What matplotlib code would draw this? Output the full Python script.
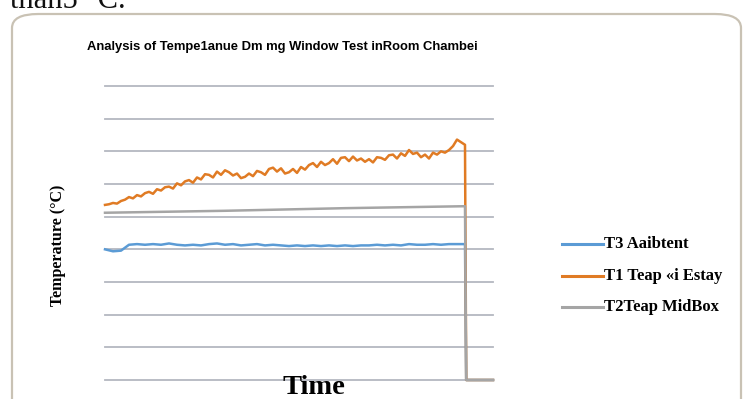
import matplotlib
matplotlib.use("Agg")
import matplotlib.pyplot as plt
from matplotlib.patches import FancyBboxPatch
from matplotlib.lines import Line2D

# ---- data (y in °C, x in sample index) ----
title = "Analysis of Tempe1anue Dm mg Window Test inRoom Chambei"
y_label = "Temperature (°C)"
x_label = "Time"
series_names = ["T3 Aaibtent", "T1 Teap «i Estay", "T2Teap MidBox"]

t1_values = [26.8, 26.9, 27.1, 27.0, 27.4, 27.6, 28.0, 27.8, 28.3, 28.1,
             28.6, 28.8, 28.5, 29.2, 29.0, 29.5, 29.6, 29.3, 30.1, 29.8,
             30.4, 30.6, 30.2, 31.0, 30.7, 31.5, 31.4, 31.0, 31.9, 31.4,
             32.1, 31.8, 31.3, 31.6, 30.9, 31.1, 31.6, 31.2, 32.0, 31.8,
             31.4, 32.3, 32.5, 31.9, 32.4, 31.6, 31.8, 32.3, 31.7, 32.6,
             32.2, 32.9, 33.2, 32.6, 33.4, 32.9, 33.2, 33.8, 33.1, 34.0,
             34.1, 33.5, 34.2, 33.6, 33.9, 33.4, 33.8, 33.3, 34.1, 34.0,
             33.7, 34.4, 34.5, 33.9, 34.7, 34.3, 35.2, 34.6, 34.8, 34.1,
             34.5, 33.9, 34.8, 34.5, 35.0, 34.8, 35.2, 35.8, 36.8, 36.4,
             36.0]
t1_time = list(range(len(t1_values)))

t3_time = list(range(0, 91, 2))
t3_values = [20.0, 19.7, 19.8, 20.7, 20.8, 20.7, 20.8, 20.7, 20.9, 20.7,
             20.6, 20.7, 20.6, 20.8, 20.9, 20.7, 20.8, 20.6, 20.7, 20.8,
             20.6, 20.7, 20.6, 20.5, 20.6, 20.5, 20.6, 20.5, 20.6, 20.5,
             20.6, 20.5, 20.6, 20.6, 20.7, 20.6, 20.7, 20.6, 20.8, 20.7,
             20.7, 20.8, 20.7, 20.8, 20.8, 20.8]

t2_time = [0, 30, 60, 90]
t2_values = [25.6, 25.9, 26.3, 26.6]

# after the test all sensors read zero
off_time = [90.3, 97]
off_values = [0, 0]

grid_values = [0, 5, 10, 15, 20, 25, 30, 35, 40, 45]

# ---- styling ----
c_blue = "#5b9bd5"
c_orange = "#e07b24"
c_gray = "#a5a5a5"
c_grid = "#b4b8c0"

W, H = 751, 399
fig = plt.figure(figsize=(W / 100, H / 100), dpi=100)
fig.patch.set_facecolor("white")

# rounded frame of the chart
frame = FancyBboxPatch((12 / W, -0.2), (741 - 12) / W, (H - 14) / H + 0.2,
                       boxstyle="round,pad=0,rounding_size=0.035",
                       transform=fig.transFigure, facecolor="none",
                       edgecolor="#c9c2b4", linewidth=1.6, zorder=-5)
fig.patches.append(frame)

# cut-off text from the document above
fig.text(10 / W, 1 - 1 / H, "than5 °C.", fontsize=22, family="Liberation Serif",
         va="center", ha="left", color="#111111")

ax = fig.add_axes([105 / W, 19 / H, (493 - 105) / W, (380 - 86) / H])
ax.set_facecolor("none")
for s in ax.spines.values():
    s.set_visible(False)
ax.set_xticks([])
ax.set_yticks([])
ax.set_xlim(0, 97)
ax.set_ylim(0, 45)
for g in grid_values:
    ax.axhline(g, color=c_grid, lw=1.3, zorder=1, clip_on=False)

def with_off(tt, vv):
    return list(tt) + off_time, list(vv) + off_values

x, y = with_off(t3_time, t3_values)
ax.plot(x, y, color=c_blue, lw=1.8, zorder=3, clip_on=False)
x, y = with_off(t1_time, t1_values)
ax.plot(x, y, color=c_orange, lw=1.8, zorder=4, clip_on=False)
x, y = with_off(t2_time, t2_values)
ax.plot(x, y, color=c_gray, lw=1.8, zorder=5, clip_on=False)

fig.text(282 / W, 1 - 47 / H, title, fontsize=9.4, fontweight="bold",
         family="Liberation Sans", ha="center", va="center")
fig.text(58 / W, 1 - 245 / H, y_label, fontsize=11.5, fontweight="bold",
         family="Liberation Serif", rotation=90, ha="center", va="center")
fig.text(314 / W, 1 - 388 / H, x_label, fontsize=20.5, fontweight="bold",
         family="Liberation Serif", ha="center", va="center")

# legend
leg_colors = [c_blue, c_orange, c_gray]
leg_y = [244, 276, 307]
for name, col, ly in zip(series_names, leg_colors, leg_y):
    fig.add_artist(Line2D([562 / W, 603 / W], [1 - ly / H, 1 - ly / H],
                          transform=fig.transFigure, color=col, lw=2.2))
    fig.text(604 / W, 1 - ly / H, name, fontsize=12, fontweight="bold",
             family="Liberation Serif", ha="left", va="center")

fig.savefig("out.png", dpi=100, facecolor="white")
